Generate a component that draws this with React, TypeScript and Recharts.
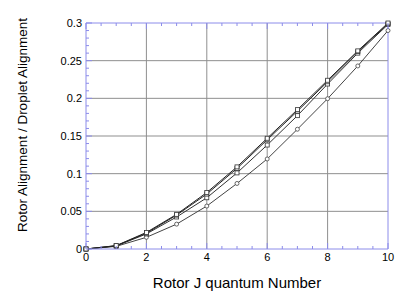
import React from "react";
import { LineChart, Line, XAxis, YAxis, CartesianGrid } from "recharts";

// Rotor J values
const jValues = [0, 1, 2, 3, 4, 5, 6, 7, 8, 9, 10];

// alignment ratios
const seriesA = [0, 0.0045, 0.022, 0.046, 0.075, 0.109, 0.147, 0.185, 0.224, 0.263, 0.3];
const seriesB = [0, 0.0043, 0.021, 0.045, 0.073, 0.107, 0.145, 0.183, 0.222, 0.262, 0.299];
const seriesC = [0, 0.004, 0.02, 0.0425, 0.068, 0.101, 0.138, 0.177, 0.219, 0.26, 0.298];
const seriesD = [0, 0.0035, 0.0155, 0.033, 0.057, 0.087, 0.1195, 0.159, 0.1995, 0.243, 0.29];

const xTicks = [0, 0.5, 1, 1.5, 2, 2.5, 3, 3.5, 4, 4.5, 5, 5.5, 6, 6.5, 7, 7.5, 8, 8.5, 9, 9.5, 10];
const xLabels = [0, 2, 4, 6, 8, 10];
const yTicks = [
  0, 0.01, 0.02, 0.03, 0.04, 0.05, 0.06, 0.07, 0.08, 0.09, 0.1, 0.11, 0.12, 0.13, 0.14, 0.15,
  0.16, 0.17, 0.18, 0.19, 0.2, 0.21, 0.22, 0.23, 0.24, 0.25, 0.26, 0.27, 0.28, 0.29, 0.3,
];
const yLabels = [0, 0.05, 0.1, 0.15, 0.2, 0.25, 0.3];
const xGrid = [2, 4, 6, 8];
const yGrid = [0.05, 0.1, 0.15, 0.2, 0.25];
const X_MAX = 10;
const Y_MAX = 0.3;

const data = jValues.map((j, i) => ({
  j,
  a: seriesA[i],
  b: seriesB[i],
  c: seriesC[i],
  d: seriesD[i],
}));

const FRAME = "#8c8cea";
const FONT = "'Liberation Sans', Arial, sans-serif";

const isMajorX = (v: number) => xLabels.includes(v);
const isMajorY = (v: number) => yLabels.some((l) => Math.abs(l - v) < 1e-6);

// grid only on the labelled values
const vGridGen = ({ xAxis, offset }: any) =>
  xGrid.map((v) =>
    typeof xAxis?.scale === "function"
      ? xAxis.scale(v)
      : offset.left + (offset.width * v) / X_MAX
  );
const hGridGen = ({ yAxis, offset }: any) =>
  yGrid.map((v) =>
    typeof yAxis?.scale === "function"
      ? yAxis.scale(v)
      : offset.top + offset.height * (1 - v / Y_MAX)
  );

const BottomTick = (props: any) => {
  const { x, y, payload } = props;
  const major = isMajorX(payload.value);
  return (
    <g>
      <line x1={x} x2={x} y1={y} y2={y - (major ? 6 : 3)} stroke={FRAME} />
      {major && (
        <text x={x} y={y + 12} textAnchor="middle" fontSize={11} fontFamily={FONT} fill="#000">
          {payload.value}
        </text>
      )}
    </g>
  );
};

const TopTick = (props: any) => {
  const { x, y, payload } = props;
  const major = isMajorX(payload.value);
  return <line x1={x} x2={x} y1={y} y2={y + (major ? 6 : 3)} stroke={FRAME} />;
};

const LeftTick = (props: any) => {
  const { x, y, payload } = props;
  const major = isMajorY(payload.value);
  return (
    <g>
      <line x1={x} x2={x + (major ? 6 : 3)} y1={y} y2={y} stroke={FRAME} />
      {major && (
        <text x={x - 4} y={y + 4} textAnchor="end" fontSize={11} fontFamily={FONT} fill="#000">
          {payload.value}
        </text>
      )}
    </g>
  );
};

const RightTick = (props: any) => {
  const { x, y, payload } = props;
  const major = isMajorY(payload.value);
  return <line x1={x} x2={x - (major ? 6 : 3)} y1={y} y2={y} stroke={FRAME} />;
};

const SquareDot = (props: any) => {
  const { cx, cy, index } = props;
  if (cx == null || cy == null) return <g key={index} />;
  return (
    <rect key={index} x={cx - 2} y={cy - 2} width={4} height={4} fill="#fff" stroke="#333" strokeWidth={0.8} />
  );
};

const CircleDot = (props: any) => {
  const { cx, cy, index } = props;
  if (cx == null || cy == null) return <g key={index} />;
  return <circle key={index} cx={cx} cy={cy} r={2} fill="#fff" stroke="#444" strokeWidth={0.8} />;
};

export default function App() {
  return (
    <div style={{ position: "absolute", left: 0, top: 0 }}>
      <LineChart
        width={415}
        height={304}
        data={data}
        margin={{ top: 23, right: 27, bottom: 55, left: 86 }}
      >
        <CartesianGrid
          stroke="#8f8f8f"
          verticalCoordinatesGenerator={vGridGen}
          horizontalCoordinatesGenerator={hGridGen}
        />
        <XAxis
          dataKey="j"
          type="number"
          domain={[0, X_MAX]}
          ticks={xTicks}
          interval={0}
          mirror
          height={30}
          tickSize={0}
          tickMargin={0}
          tickLine={false}
          tick={<BottomTick />}
          axisLine={{ stroke: FRAME }}
        />
        <XAxis
          xAxisId="top"
          orientation="top"
          dataKey="j"
          type="number"
          domain={[0, X_MAX]}
          ticks={xTicks}
          interval={0}
          mirror
          height={30}
          tickSize={0}
          tickMargin={0}
          tickLine={false}
          tick={<TopTick />}
          axisLine={{ stroke: FRAME }}
        />
        <YAxis
          type="number"
          domain={[0, Y_MAX]}
          ticks={yTicks}
          interval={0}
          mirror
          width={40}
          tickSize={0}
          tickMargin={0}
          tickLine={false}
          tick={<LeftTick />}
          axisLine={{ stroke: FRAME }}
        />
        <YAxis
          yAxisId="right"
          orientation="right"
          type="number"
          domain={[0, Y_MAX]}
          ticks={yTicks}
          interval={0}
          mirror
          width={40}
          tickSize={0}
          tickMargin={0}
          tickLine={false}
          tick={<RightTick />}
          axisLine={{ stroke: FRAME }}
        />
        <Line dataKey="d" stroke="#444" strokeWidth={1} dot={<CircleDot />} isAnimationActive={false} />
        <Line dataKey="c" stroke="#333" strokeWidth={1} dot={<SquareDot />} isAnimationActive={false} />
        <Line dataKey="b" stroke="#222" strokeWidth={1} dot={<SquareDot />} isAnimationActive={false} />
        <Line dataKey="a" stroke="#222" strokeWidth={1} dot={<SquareDot />} isAnimationActive={false} />
        <text x={237} y={288} textAnchor="middle" fontSize={15} fontFamily={FONT} fill="#000">
          Rotor J quantum Number
        </text>
        <text
          x={27}
          y={125}
          transform="rotate(-90 27 125)"
          textAnchor="middle"
          fontSize={13.5}
          fontFamily={FONT}
          fill="#000"
        >
          Rotor Alignment / Droplet Alignment
        </text>
      </LineChart>
    </div>
  );
}
